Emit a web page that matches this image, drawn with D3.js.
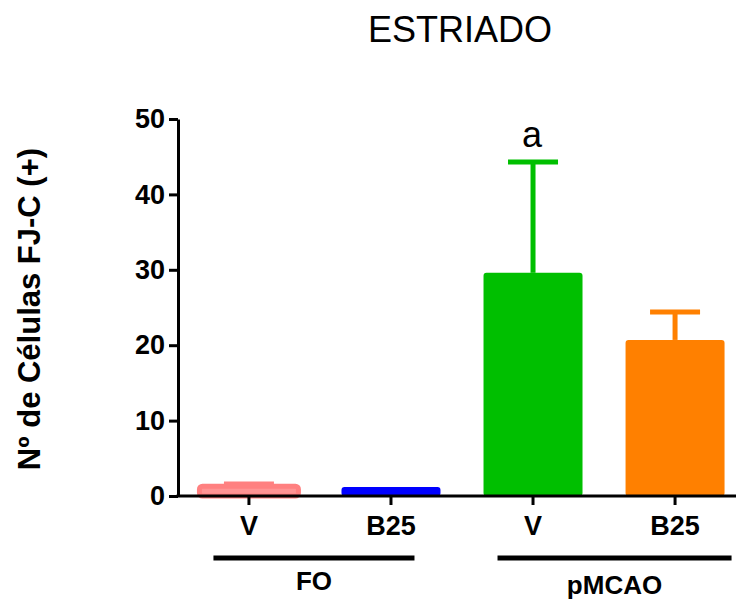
<!DOCTYPE html>
<html>
<head>
<meta charset="utf-8">
<script src="https://cdn.jsdelivr.net/npm/d3@7/dist/d3.min.js"></script>
<style>
  body { margin: 0; background: #fff; }
  svg { display: block; font-family: "Liberation Sans", Arial, sans-serif; }
</style>
</head>
<body>
<div class="chart-container"></div>
<script>
//! DATA
const groups = ['FO', 'FO', 'pMCAO', 'pMCAO'];
const treatments = ['V', 'B25', 'V', 'B25'];
const means = [1.3, 1.2, 29.6, 20.7];
const errors = [0.3, 0, 14.7, 3.7];
const colors = ['#ff9494', '#0000ff', '#00bf00', '#ff8000'];
const edgeColors = ['#ff8080', '#0000ff', '#00bf00', '#ff8000'];
const yTicks = [0, 10, 20, 30, 40, 50];
const groupNames = ['FO', 'pMCAO'];
const marks = ['', '', 'a', ''];

//! CONSTS
const WIDTH = 736;
const HEIGHT = 600;
const X0 = 178;      // y axis position
const Y0 = 496;      // baseline
const YTOP = 119;

const keys = treatments.map((t, i) => groups[i] + '-' + t);

const svg = d3.select('.chart-container')
  .append('svg')
  .attr('width', WIDTH)
  .attr('height', HEIGHT);

//! SCALES
const x = d3.scaleBand()
  .domain(keys)
  .range([X0, X0 + 568])
  .paddingInner(0.303)
  .paddingOuter(0.151);

const y = d3.scaleLinear()
  .domain([0, 50])
  .range([Y0, YTOP]);

// title
svg.append('text')
  .attr('x', 460)
  .attr('y', 42)
  .attr('text-anchor', 'middle')
  .style('font-size', '36px')
  .text('ESTRIADO');

// bars
svg.append('g')
  .selectAll('rect')
  .data(keys)
  .enter()
  .append('rect')
  .attr('x', d => x(d))
  .attr('y', (d, i) => y(means[i]))
  .attr('width', x.bandwidth())
  .attr('height', (d, i) => Y0 - y(means[i]))
  .attr('rx', 3)
  .attr('fill', (d, i) => colors[i])
  .attr('stroke', (d, i) => edgeColors[i])
  .attr('stroke-width', (d, i) => i === 0 ? 5 : 0);

// error bars (upper only)
const err = svg.append('g')
  .selectAll('g')
  .data(keys.filter((d, i) => errors[i] > 0))
  .enter()
  .append('g')
  .attr('stroke', d => edgeColors[keys.indexOf(d)])
  .attr('stroke-width', 5);

err.append('line')
  .attr('x1', d => x(d) + x.bandwidth() / 2)
  .attr('x2', d => x(d) + x.bandwidth() / 2)
  .attr('y1', d => y(means[keys.indexOf(d)]))
  .attr('y2', d => { const i = keys.indexOf(d); return y(means[i] + errors[i]); });

err.append('line')
  .attr('x1', d => x(d) + x.bandwidth() / 2 - 25)
  .attr('x2', d => x(d) + x.bandwidth() / 2 + 25)
  .attr('y1', d => { const i = keys.indexOf(d); return y(means[i] + errors[i]); })
  .attr('y2', d => { const i = keys.indexOf(d); return y(means[i] + errors[i]); });

// significance letters
svg.append('g')
  .selectAll('text')
  .data(keys.filter((d, i) => marks[i]))
  .enter()
  .append('text')
  .attr('x', d => x(d) + x.bandwidth() / 2 - 1)
  .attr('y', d => { const i = keys.indexOf(d); return y(means[i] + errors[i]) - 15; })
  .attr('text-anchor', 'middle')
  .style('font-size', '36px')
  .text(d => marks[keys.indexOf(d)]);

//! AXES
const yAxis = svg.append('g')
  .attr('transform', `translate(${X0},0)`)
  .call(d3.axisLeft(y).tickValues(yTicks).tickSize(9).tickSizeOuter(0).tickPadding(4));

yAxis.selectAll('path, line')
  .attr('stroke', '#000')
  .attr('stroke-width', 3);
yAxis.selectAll('text')
  .attr('fill', '#000')
  .style('font-size', '27px')
  .style('font-weight', 'bold')
  .style('font-family', '"Liberation Sans", Arial, sans-serif');

const xAxis = svg.append('g')
  .attr('transform', `translate(0,${Y0})`)
  .call(d3.axisBottom(x).tickSize(9).tickSizeOuter(0).tickPadding(11).tickFormat((d, i) => treatments[i]));

xAxis.select('.domain').attr('d', `M${X0 - 1.5},0H${WIDTH}`);
xAxis.selectAll('path, line')
  .attr('stroke', '#000')
  .attr('stroke-width', 3);
xAxis.selectAll('text')
  .attr('fill', '#000')
  .style('font-size', '27px')
  .style('font-weight', 'bold')
  .style('font-family', '"Liberation Sans", Arial, sans-serif');

// group brackets under the categories
const spans = groupNames.map((g, gi) => {
  const ks = keys.filter((k, i) => groups[i] === g);
  const start = x(ks[0]) + 14;
  const end = x(ks[ks.length - 1]) + x.bandwidth() + (gi === 0 ? -26 : 7);
  return { name: g, start, end };
});

const brackets = svg.append('g');
brackets.selectAll('line')
  .data(spans)
  .enter()
  .append('line')
  .attr('x1', d => d.start)
  .attr('x2', d => d.end)
  .attr('y1', 558)
  .attr('y2', 558)
  .attr('stroke', '#000')
  .attr('stroke-width', 5);

brackets.selectAll('text')
  .data(spans)
  .enter()
  .append('text')
  .attr('x', d => (d.start + d.end) / 2)
  .attr('y', (d, i) => i === 0 ? 590 : 594)
  .attr('text-anchor', 'middle')
  .style('font-size', '26px')
  .style('font-weight', 'bold')
  .text(d => d.name);

// y label
svg.append('text')
  .attr('transform', 'translate(40,309) rotate(-90)')
  .attr('text-anchor', 'middle')
  .style('font-size', '31px')
  .style('font-weight', 'bold')
  .text('Nº de Células FJ-C (+)');
</script>
</body>
</html>
